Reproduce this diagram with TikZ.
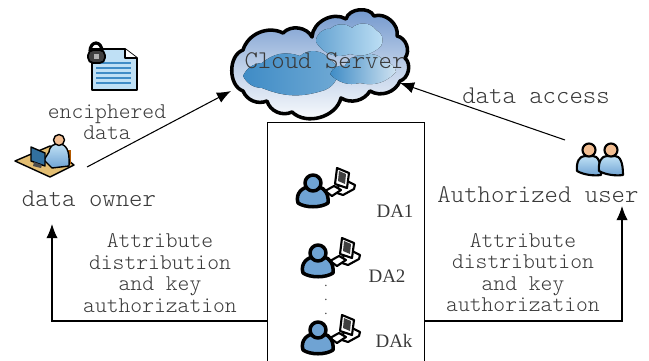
\documentclass[tikz,border=0pt]{standalone}
\usepackage{amsmath,amssymb}
\usepackage{fontspec}
\usepackage{tikz}
\usetikzlibrary{arrows.meta}
\setmainfont{Liberation Serif}
\setmonofont{Latin Modern Mono Light}

\definecolor{labelgray}{HTML}{3A3A3A}
\definecolor{skyblue}{HTML}{6E95CC}
\definecolor{blobblue}{HTML}{3F8CC6}
\definecolor{userblue}{HTML}{6FA3D3}
\definecolor{paleblue}{HTML}{BFE0F5}
\definecolor{skin}{HTML}{F2BE92}
\definecolor{deskyellow}{HTML}{E3BE72}

\newcommand{\ttlarge}{\fontsize{7.26}{6.1}\selectfont\ttfamily\lineskiplimit -5pt\relax}
\newcommand{\ttsmall}{\fontsize{6.4}{6.1}\selectfont\ttfamily\lineskiplimit -5pt\relax}

\tikzset{
    ttlabel/.style={font=\ttlarge, text=labelgray, align=center, inner sep=0},
    smalllabel/.style={font=\ttsmall, text=labelgray, align=center, inner sep=0},
    dalabel/.style={font=\fontsize{5.4}{6}\selectfont, text=labelgray, inner sep=0},
    link/.style={line width=0.3pt, -{Latex[length=4pt,width=3.2pt]}},
    outline/.style={draw=black, line width=0.75pt, line join=round},
    thinoutline/.style={draw=black, line width=0.4pt, line join=round}
}

% person at a computer, (#1,#2) is the head
\newcommand{\dauser}[2]{
    \begin{scope}[shift={(#1,#2)}]
        \filldraw[thinoutline, fill=white, line width=0.6pt] (27,-4) -- (32,-3) -- (42,2) -- (41,6) -- (30,12) -- (24,10) -- cycle;
        \filldraw[thinoutline, fill=white, line width=0.6pt] (24,-15) -- (36,-10) -- (34,5) -- (22,1) -- cycle;
        \fill[black!75] (26,-12) -- (33,-9) -- (32,1) -- (25,-2) -- cycle;
        \filldraw[thinoutline, fill=white, line width=0.6pt] (12,8) -- (21,3) -- (28,7) -- (19,13) -- cycle;
        \filldraw[outline, line width=1pt, fill=userblue] (-15,20) .. controls (-18,10) and (-10,4) .. (-4,4)
            -- (6,4) .. controls (12,5) and (16,12) .. (15,20)
            .. controls (8,25) and (-8,25) .. (-15,20) -- cycle;
        \filldraw[outline, line width=1pt, fill=userblue] (0,0) circle (8);
    \end{scope}
}

% client with a pale shirt
\newcommand{\authuser}[2]{
    \begin{scope}[shift={(#1,#2)}]
        \filldraw[thinoutline, line width=0.6pt, top color=paleblue, bottom color=userblue] (-12,21) .. controls (-13,11) and (-9,6) .. (-4,6)
            -- (4,6) .. controls (9,6) and (12,12) .. (12,25) .. controls (5,26) and (-5,25) .. (-12,21) -- cycle;
        \filldraw[thinoutline, line width=0.6pt, fill=skin] (0,0) circle (6.5);
    \end{scope}
}

\begin{document}
\begin{tikzpicture}[x=0.01cm, y=-0.01cm]
    \useasboundingbox (0,0) rectangle (649,361);
    \clip (0,0) rectangle (649,361);

    % cloud
    \filldraw[outline, line width=1pt, top color=skyblue, bottom color=white, middle color=skyblue!45!white]
        (243,50) to [bend left=50] (283,33) to [bend left=55] (312,37)
        to [bend left=60] (346,19) to [bend left=70] (374,16)
        to [bend left=60] (397,36) to [bend left=60] (405,58)
        to [bend left=60] (400,81) to [bend left=50] (370,91)
        to [bend left=45] (341,98) to [bend left=60] (292,112)
        to [bend left=50] (267,101) to [bend left=45] (243,91)
        to [bend left=70] (243,50) -- cycle;
    \fill[left color=blobblue, right color=blobblue!75!white]
        (243,76) to [bend left=30] (262,63) to [bend left=30] (300,56)
        to [bend left=50] (330,60) to [bend left=30] (338,72)
        to [bend left=30] (325,90) to [bend left=20] (262,88)
        to [bend left=30] (243,76) -- cycle;
    \fill[left color=blobblue, right color=blobblue!25!white]
        (330,74) to [bend left=40] (345,66) to [bend left=40] (362,56)
        to [bend left=40] (385,62) to [bend left=40] (396,72)
        to [bend left=30] (360,83) to [bend left=30] (330,74) -- cycle;
    \fill[left color=blobblue!80!white, right color=paleblue]
        (316,42) to [bend left=50] (330,29) to [bend left=40] (352,28)
        to [bend left=50] (376,30) to [bend left=50] (381,46)
        to [bend left=30] (350,54) to [bend left=40] (316,42) -- cycle;
    \node[ttlabel] (cloudtext) at (325,61) {Cloud Server};

    % enciphered file
    \filldraw[thinoutline, line width=0.5pt, fill=paleblue] (92,49) -- (125,49) -- (137,58) -- (137,90) -- (92,90) -- cycle;
    \draw[thinoutline, fill=white] (125,49) -- (125,58) -- (137,58);
    \foreach \liney in {63,68,73,78,83}
        \draw[blobblue, line width=0.3pt] (96,\liney) -- (131,\liney);
    \draw[outline, line width=0.9pt] (90,51) arc (180:360:6 and 8);
    \filldraw[black!75, draw=black, line width=0.5pt, rounded corners=1.5] (88,50) rectangle (105,63);
    \fill[black!30] (94,54) rectangle (99,59);
    \node[smalllabel] (enciphered) at (107,122) {enciphered\\data};

    % data owner
    \filldraw[thinoutline, fill=deskyellow] (15,161) -- (50,146) -- (74,165) -- (50,177) -- cycle;
    \fill[orange!70!black] (68,150) rectangle (71,164);
    \filldraw[thinoutline, top color=paleblue, bottom color=userblue] (49,152) .. controls (50,145) and (54,144) .. (59,144)
        .. controls (66,144) and (70,150) .. (69,166) -- (52,168) -- (44,160) -- cycle;
    \filldraw[thinoutline, fill=skin] (59,140) circle (5.5);
    \filldraw[thinoutline, fill=blobblue!80!black] (31,147) -- (45,153) -- (45,166) -- (31,161) -- cycle;
    \fill[black!70] (34,162) -- (42,165) -- (41,168) -- (33,166) -- cycle;
    \node[ttlabel] (owner) at (89,199) {data owner};

    % authorized users
    \authuser{589}{150}
    \authuser{611}{150}
    \node[ttlabel] (authuser) at (538,195) {Authorized user};
    \node[ttlabel] (access) at (536,96) {data access};

    % DA box
    \node[draw, line width=0.3pt, minimum width=1.56cm, minimum height=2.6cm, inner sep=0] (dabox) at (346,253) {};
    \dauser{313}{183}
    \dauser{318}{253}
    \dauser{318}{330}
    \node[dalabel] (daone) at (395,211) {DA1};
    \node[dalabel] (datwo) at (387,276) {DA2};
    \node[dalabel] (dak) at (394,341) {DAk};
    \node[font=\fontsize{3.6}{4}\selectfont, text=labelgray, inner sep=0] (dadots) at (326,289) {$\vdots$};

    \node[smalllabel] (leftattr) at (160,273) {Attribute\\distribution\\and key\\authorization};
    \node[smalllabel] (rightattr) at (523,272.5) {Attribute\\distribution\\and key\\authorization};

    % connectors
    \coordinate (ownerout) at (87,167);
    \coordinate (cloudleft) at (231,91);
    \coordinate (userout) at (565,140);
    \coordinate (cloudright) at (400,83);
    \coordinate (boxleft) at (268,321);
    \coordinate (boxright) at (424,321);
    \coordinate (ownerin) at (52,224);
    \coordinate (userin) at (622,206);

    \draw[link] (ownerout) -- (cloudleft);
    \draw[link] (userout) -- (cloudright);
    \draw[link] (boxleft) -| (ownerin);
    \draw[link] (boxright) -| (userin);
\end{tikzpicture}
\end{document}
